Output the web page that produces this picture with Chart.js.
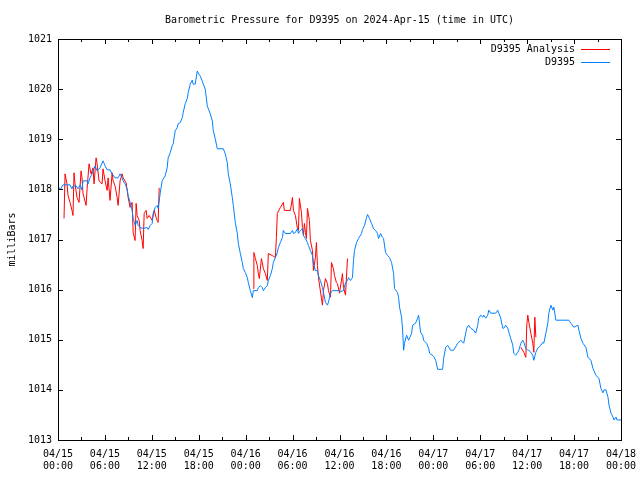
<!DOCTYPE html>
<html>
<head>
<meta charset="utf-8">
<script src="https://cdn.jsdelivr.net/npm/chart.js@4"></script>
<style>
  body { margin: 0; background: #fff; }
  canvas { display: block; }
</style>
</head>
<body>
<canvas id="graficoPressao" width="640" height="480"></canvas>
<script>
    // eixo x: horas desde 04/15 00:00 UTC
    const tickDates = ['04/15', '04/15', '04/15', '04/15', '04/16', '04/16', '04/16', '04/16', '04/17', '04/17', '04/17', '04/17', '04/18'];
    const tickTimes = ['00:00', '06:00', '12:00', '18:00', '00:00', '06:00', '12:00', '18:00', '00:00', '06:00', '12:00', '18:00', '00:00'];

    const stationHours = [0, 0.26, 0.64, 1.54, 1.79, 1.92, 2.31, 2.56, 2.82, 3.07,
        3.2, 3.72, 3.84, 4.1, 4.36, 4.74, 5.0, 5.38, 5.76, 6.02,
        6.28, 6.66, 6.92, 7.3, 7.69, 7.94, 8.2, 8.33, 8.58, 8.84,
        8.97, 9.22, 9.48, 9.61, 9.86, 10.12, 10.25, 10.5, 10.89, 11.4,
        11.53, 11.79, 12.04, 12.17, 12.43, 12.68, 12.81, 13.07, 13.32, 13.71,
        13.96, 14.09, 14.35, 14.6, 14.73, 14.99, 15.24, 15.37, 15.63, 15.89,
        16.01, 16.27, 16.53, 16.65, 16.91, 17.17, 17.29, 17.55, 17.81, 17.94,
        18.19, 18.45, 18.58, 18.83, 19.09, 19.22, 19.47, 19.73, 19.86, 20.11,
        20.37, 21.14, 21.39, 21.65, 21.78, 22.03, 22.29, 22.42, 22.67, 22.93,
        23.06, 23.32, 23.57, 23.7, 23.96, 24.21, 24.34, 24.6, 24.85, 24.98,
        25.49, 25.62, 25.88, 26.13, 26.26, 26.52, 26.77, 26.9, 27.16, 27.41,
        27.54, 27.8, 28.05, 28.18, 28.44, 28.7, 28.82, 29.08, 29.72, 29.98,
        30.11, 30.36, 30.62, 30.75, 31.0, 31.26, 31.39, 31.64, 31.9, 32.03,
        32.28, 32.54, 32.67, 32.92, 33.18, 33.31, 33.56, 33.82, 33.95, 34.2,
        34.46, 34.59, 34.85, 35.1, 35.87, 36.13, 36.51, 36.77, 37.02, 37.15,
        37.41, 37.66, 37.79, 37.92, 38.18, 38.43, 38.82, 38.94, 39.2, 39.46,
        39.59, 39.84, 40.1, 40.35, 40.61, 40.87, 40.99, 41.25, 41.51, 41.63,
        41.89, 42.15, 42.4, 42.66, 42.92, 43.04, 43.43, 43.56, 43.68, 43.94,
        44.07, 44.2, 44.32, 44.58, 44.84, 45.22, 45.35, 45.73, 45.99, 46.12,
        46.37, 46.63, 46.76, 47.14, 47.4, 47.53, 48.04, 48.3, 48.55, 49.19,
        49.32, 49.58, 49.83, 50.22, 50.6, 51.11, 51.5, 51.76, 51.88, 52.27,
        52.52, 52.78, 53.16, 53.42, 53.68, 53.8, 54.06, 54.32, 54.45, 54.7,
        54.96, 55.09, 55.34, 55.98, 56.24, 56.37, 56.62, 56.88, 57.01, 57.26,
        57.52, 57.65, 57.9, 58.16, 58.29, 58.54, 58.8, 58.93, 59.19, 59.44,
        59.57, 59.83, 60.08, 60.21, 60.47, 60.72, 60.85, 61.11, 61.36, 61.75,
        62.0, 62.13, 62.39, 62.64, 62.77, 63.03, 63.29, 63.41, 63.67, 65.33,
        65.59, 65.97, 66.49, 66.62, 66.87, 67.13, 67.51, 67.77, 68.15, 68.41,
        68.79, 69.18, 69.43, 69.69, 69.82, 70.07, 70.33, 70.46, 70.71, 70.97,
        71.1, 71.36, 71.48, 72.0];

    const stationValues = [1018.07, 1017.99, 1018.09, 1018.09, 1018.01, 1018.07, 1018.07, 1018.01, 1018.09, 1017.99,
        1018.17, 1018.17, 1018.11, 1018.23, 1018.31, 1018.47, 1018.37, 1018.43, 1018.57, 1018.47,
        1018.39, 1018.39, 1018.31, 1018.23, 1018.23, 1018.31, 1018.23, 1018.17, 1018.11, 1018.01,
        1017.88, 1017.74, 1017.58, 1017.42, 1017.28, 1017.38, 1017.28, 1017.24, 1017.22, 1017.24,
        1017.2, 1017.28, 1017.32, 1017.52, 1017.64, 1017.68, 1017.62, 1017.92, 1018.17, 1018.27,
        1018.43, 1018.63, 1018.73, 1018.87, 1018.91, 1019.17, 1019.23, 1019.31, 1019.33, 1019.43,
        1019.53, 1019.71, 1019.81, 1019.93, 1020.1, 1020.18, 1020.1, 1020.1, 1020.36, 1020.32,
        1020.26, 1020.16, 1020.1, 1020.0, 1019.67, 1019.61, 1019.51, 1019.37, 1019.17, 1019.01,
        1018.81, 1018.81, 1018.71, 1018.53, 1018.31, 1018.11, 1017.84, 1017.68, 1017.34, 1017.12,
        1016.92, 1016.72, 1016.54, 1016.42, 1016.34, 1016.24, 1016.14, 1015.98, 1015.84, 1015.98,
        1015.98, 1016.04, 1016.08, 1016.04, 1015.98, 1016.04, 1016.08, 1016.18, 1016.28, 1016.42,
        1016.54, 1016.64, 1016.74, 1016.84, 1016.94, 1017.04, 1017.18, 1017.12, 1017.12, 1017.18,
        1017.12, 1017.14, 1017.22, 1017.12, 1017.18, 1017.22, 1017.08, 1017.02, 1016.94, 1016.88,
        1016.78, 1016.68, 1016.52, 1016.38, 1016.38, 1016.28, 1016.18, 1016.04, 1015.94, 1015.75,
        1015.69, 1015.75, 1015.93, 1015.98, 1015.98, 1015.96, 1015.98, 1016.14, 1016.18, 1016.24,
        1016.18, 1016.24, 1016.58, 1016.78, 1016.94, 1017.02, 1017.12, 1017.2, 1017.28, 1017.44,
        1017.5, 1017.42, 1017.32, 1017.22, 1017.18, 1017.12, 1017.02, 1017.12, 1017.04, 1017.02,
        1016.74, 1016.68, 1016.64, 1016.54, 1016.32, 1016.02, 1015.94, 1015.84, 1015.65, 1015.45,
        1015.19, 1014.79, 1014.93, 1015.09, 1014.99, 1015.13, 1015.29, 1015.33, 1015.43, 1015.49,
        1015.15, 1015.09, 1014.99, 1014.93, 1014.83, 1014.73, 1014.67, 1014.59, 1014.41, 1014.41,
        1014.63, 1014.85, 1014.89, 1014.79, 1014.79, 1014.93, 1014.99, 1014.95, 1014.93, 1015.23,
        1015.29, 1015.23, 1015.19, 1015.13, 1015.29, 1015.43, 1015.49, 1015.45, 1015.49, 1015.43,
        1015.49, 1015.59, 1015.53, 1015.53, 1015.59, 1015.53, 1015.43, 1015.23, 1015.23, 1015.29,
        1015.23, 1015.15, 1015.03, 1014.89, 1014.73, 1014.69, 1014.75, 1014.79, 1014.93, 1014.99,
        1014.95, 1014.83, 1014.79, 1014.79, 1014.75, 1014.69, 1014.59, 1014.75, 1014.83, 1014.89,
        1014.95, 1014.93, 1015.13, 1015.33, 1015.53, 1015.69, 1015.59, 1015.65, 1015.39, 1015.39,
        1015.33, 1015.25, 1015.29, 1015.19, 1015.03, 1014.93, 1014.85, 1014.65, 1014.59, 1014.43,
        1014.29, 1014.23, 1014.03, 1013.94, 1014.0, 1014.0, 1013.86, 1013.7, 1013.54, 1013.46,
        1013.4, 1013.46, 1013.4, 1013.4];

    // analise: tres trechos, null = sem dados
    const analysisHours = [0.77, 0.9, 1.15, 1.28, 1.54, 1.79, 1.92, 2.05, 2.18, 2.43,
        2.69, 2.95, 3.07, 3.2, 3.59, 3.72, 3.97, 4.23, 4.48, 4.61,
        4.87, 5.0, 5.25, 5.64, 5.76, 6.02, 6.28, 6.41, 6.66, 6.92,
        7.05, 7.3, 7.56, 7.69, 7.94, 8.2, 8.33, 8.71, 8.97, 9.22,
        9.48, 9.61, 9.86, 9.99, 10.12, 10.38, 10.5, 10.76, 10.89, 11.02,
        11.27, 11.4, 11.66, 12.04, 12.3, 12.55, 12.68, 12.81, 12.94,
        18,
        24.98, 25.05, 25.24, 25.49, 25.62, 25.75, 26.01, 26.13, 26.26, 26.52,
        26.77, 26.9, 27.41, 27.8, 27.93, 28.05, 28.44, 28.82, 28.95, 29.72,
        29.98, 30.11, 30.36, 30.62, 30.75, 30.87, 31.13, 31.26, 31.39, 31.51,
        31.64, 31.77, 31.9, 32.15, 32.28, 32.54, 32.67, 32.92, 33.05, 33.18,
        33.31, 33.69, 33.82, 33.95, 34.2, 34.46, 34.59, 34.85, 34.97, 35.23,
        35.36, 35.61, 35.74, 36.0, 36.38, 36.51, 36.77, 37.02,
        48,
        59.19, 59.57, 59.83, 59.95, 60.08, 60.21, 60.47, 60.72, 60.85, 60.98, 61.11];

    const analysisValues = [1017.42, 1018.31, 1018.11, 1017.88, 1017.74, 1017.58, 1017.48, 1018.33, 1018.11, 1017.84,
        1017.74, 1018.37, 1018.23, 1017.92, 1017.68, 1018.01, 1018.51, 1018.31, 1018.43, 1018.11,
        1018.63, 1018.51, 1018.17, 1018.11, 1018.41, 1018.17, 1017.98, 1018.23, 1017.78, 1018.33,
        1018.17, 1018.07, 1017.84, 1017.68, 1018.17, 1018.31, 1018.23, 1018.13, 1017.84, 1017.64,
        1017.74, 1017.14, 1016.98, 1017.72, 1017.48, 1017.38, 1017.18, 1016.98, 1016.82, 1017.52,
        1017.58, 1017.42, 1017.48, 1017.38, 1017.58, 1017.44, 1017.38, 1017.34, 1018.03,
        null,
        1016.02, 1016.74, 1016.62, 1016.48, 1016.32, 1016.22, 1016.62, 1016.54, 1016.42, 1016.32,
        1016.18, 1016.72, 1016.68, 1016.64, 1017.04, 1017.52, 1017.64, 1017.74, 1017.58, 1017.58,
        1017.84, 1017.58, 1017.48, 1017.22, 1017.18, 1017.82, 1017.54, 1017.24, 1017.08, 1017.32,
        1017.14, 1017.02, 1017.62, 1017.38, 1016.98, 1016.78, 1016.38, 1016.64, 1016.94, 1016.48,
        1016.24, 1015.83, 1015.69, 1015.98, 1016.22, 1016.12, 1015.98, 1015.85, 1016.54, 1016.42,
        1016.28, 1016.14, 1016.12, 1015.93, 1016.32, 1016.04, 1015.89, 1016.62,
        null,
        1014.85, 1014.75, 1014.65, 1015.29, 1015.49, 1015.35, 1015.13, 1014.93, 1014.75, 1015.45, 1015.05];

    const fonte = 'DejaVu Sans Mono';
    Chart.defaults.font.family = fonte;
    Chart.defaults.font.size = 10;
    Chart.defaults.color = '#000';

    // moldura com marcas internas + legenda no estilo gnuplot
    const moldura = {
        id: 'moldura',
        afterDraw(chart) {
            const { ctx, chartArea: a, scales: { x, y } } = chart;
            ctx.save();
            ctx.strokeStyle = '#000';
            ctx.lineWidth = 1;
            ctx.strokeRect(a.left + 0.5, a.top + 0.5, a.right - a.left, a.bottom - a.top);
            ctx.beginPath();
            for (let h = 0; h <= 72; h += 3) {
                const px = Math.round(x.getPixelForValue(h)) + 0.5;
                const len = h % 6 === 0 ? 5 : 3;
                ctx.moveTo(px, a.bottom); ctx.lineTo(px, a.bottom - len);
                ctx.moveTo(px, a.top); ctx.lineTo(px, a.top + len);
            }
            for (let v = 1013; v <= 1021; v++) {
                const py = Math.round(y.getPixelForValue(v)) + 0.5;
                ctx.moveTo(a.left, py); ctx.lineTo(a.left + 5, py);
                ctx.moveTo(a.right, py); ctx.lineTo(a.right - 5, py);
            }
            ctx.stroke();

            ctx.font = '10px ' + fonte;
            ctx.textAlign = 'right';
            ctx.textBaseline = 'middle';
            chart.data.datasets.forEach((ds, i) => {
                const ly = a.top + 10 + i * 13;
                ctx.fillStyle = '#000';
                ctx.fillText(ds.label, a.right - 46, ly);
                ctx.strokeStyle = ds.borderColor;
                ctx.beginPath();
                ctx.moveTo(a.right - 40, ly + 0.5);
                ctx.lineTo(a.right - 11, ly + 0.5);
                ctx.stroke();
            });
            ctx.restore();
        }
    };

    const grafico = document.getElementById('graficoPressao');

    new Chart(grafico, {
        type: 'line',
        data: {
            datasets: [{
                label: 'D9395 Analysis',
                data: analysisHours.map((h, i) => ({ x: h, y: analysisValues[i] })),
                borderWidth: 1,
                borderColor: '#ff0000',
                pointRadius: 0,
                tension: 0,
                spanGaps: false,
                order: 1
            },
            {
                label: 'D9395',
                data: stationHours.map((h, i) => ({ x: h, y: stationValues[i] })),
                borderWidth: 1,
                borderColor: '#0080ff',
                pointRadius: 0,
                tension: 0,
                order: 0
            }]
        },
        options: {
            responsive: false,
            animation: false,
            events: [],
            layout: {
                padding: { left: 0, right: 19, top: 0, bottom: 0 }
            },
            plugins: {
                legend: { display: false },
                tooltip: { enabled: false },
                title: {
                    display: true,
                    fullSize: false,
                    text: 'Barometric Pressure for D9395 on 2024-Apr-15 (time in UTC)',
                    font: { family: fonte, size: 10, weight: 'normal' },
                    color: '#000',
                    padding: { top: 14, bottom: 13 }
                }
            },
            scales: {
                x: {
                    type: 'linear',
                    min: 0,
                    max: 72,
                    grid: { display: false, drawTicks: false },
                    border: { display: false },
                    ticks: {
                        stepSize: 6,
                        autoSkip: false,
                        maxRotation: 0,
                        minRotation: 0,
                        padding: 8,
                        color: '#000',
                        callback: (v) => [tickDates[v / 6], tickTimes[v / 6]]
                    },
                    afterFit: (s) => {
                        s.height = 40;
                        s.paddingLeft = 0;
                        s.paddingRight = 0;
                    }
                },
                y: {
                    min: 1013,
                    max: 1021,
                    grid: { display: false, drawTicks: false },
                    border: { display: false },
                    ticks: {
                        stepSize: 1,
                        padding: 6,
                        color: '#000',
                        callback: (v) => String(v)
                    },
                    title: {
                        display: true,
                        text: 'milliBars',
                        color: '#000',
                        padding: { top: 6, bottom: 0 }
                    },
                    afterFit: (s) => { s.width = 58; }
                }
            }
        },
        plugins: [moldura]
    });
</script>
</body>
</html>
